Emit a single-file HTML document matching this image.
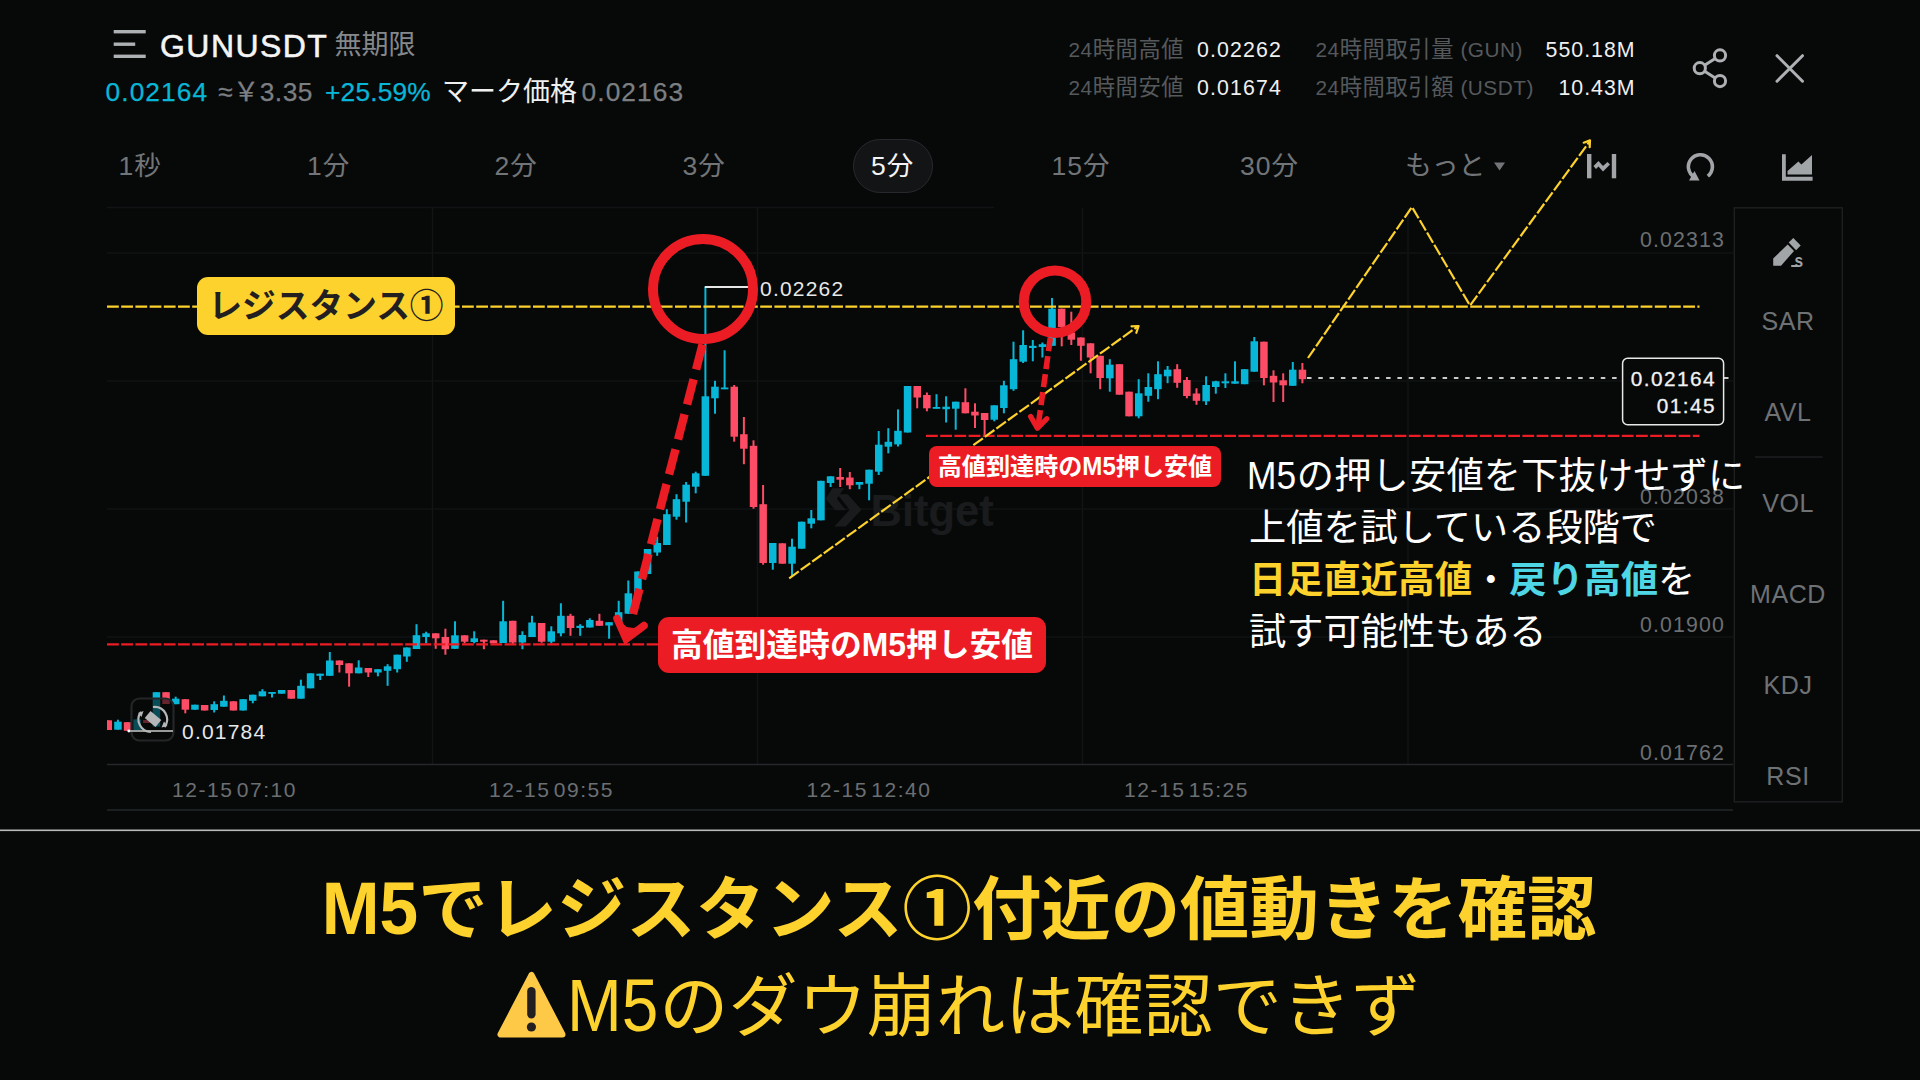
<!DOCTYPE html>
<html lang="ja"><head><meta charset="utf-8"><title>GUNUSDT M5</title>
<style>
html,body{margin:0;padding:0}
body{width:1920px;height:1080px;overflow:hidden;position:relative;background:#070909;font-family:"Liberation Sans","Noto Sans CJK JP",sans-serif}
.t{position:absolute;white-space:nowrap;line-height:1;font-family:"Liberation Sans","Noto Sans CJK JP",sans-serif}
.mb{display:inline-block;line-height:1;transform:scale(1,1.072);transform-origin:0 84.65%}
.mr{display:inline-block;line-height:1;transform:scale(0.95,1.058);transform-origin:0 84.65%;margin-right:-0.06em}
.lb{position:absolute;white-space:nowrap;text-align:center;font-weight:700;font-family:"Liberation Sans","Noto Sans CJK JP",sans-serif}
svg{position:absolute;left:0;top:0}
</style></head><body>
<svg width="1920" height="1080" viewBox="0 0 1920 1080">
<defs><clipPath id="cl"><rect x="107" y="200" width="1626" height="565"/></clipPath></defs>
<g stroke="#111315" stroke-width="1.4" fill="none">
<line x1="107" y1="207.5" x2="994" y2="207.5"/>
<line x1="107" y1="253" x2="1733" y2="253"/>
<line x1="107" y1="381" x2="1733" y2="381"/>
<line x1="107" y1="509" x2="1733" y2="509"/>
<line x1="107" y1="637" x2="1733" y2="637"/>
<line x1="432.5" y1="208" x2="432.5" y2="765"/>
<line x1="757.5" y1="208" x2="757.5" y2="765"/>
<line x1="1082.5" y1="208" x2="1082.5" y2="765"/>
<line x1="1408" y1="208" x2="1408" y2="765"/>
</g>
<g stroke="#25272a" stroke-width="1.5"><line x1="107" y1="764.5" x2="1733" y2="764.5"/><line x1="107" y1="810" x2="1733" y2="810"/></g>
<g fill="#1a1b1d"><path d="M837.3 494.3 H847.7 L861.5 509.7 L845.7 526.5 H834.3 L849.7 509.7 Z"/><path d="M826.5 488.2 H838.2 L830.8 498.8 L840 510.3 H829.5 L819.5 498.8 Z" transform="translate(6,0)"/></g>
<text x="870.5" y="526" font-family='"Liberation Sans","Noto Sans CJK JP",sans-serif' font-weight="700" font-size="43.5" fill="#1a1b1d">Bitget</text>
<g clip-path="url(#cl)">
<rect x="107.3" y="720.3" width="2" height="9.7" fill="#fc4c66"/>
<rect x="104.5" y="720.3" width="7.5" height="9.7" fill="#fc4c66"/>
<rect x="116.9" y="719.7" width="2" height="10.0" fill="#08b7d8"/>
<rect x="114.2" y="721.7" width="7.5" height="8.0" fill="#08b7d8"/>
<rect x="126.6" y="722.2" width="2" height="8.8" fill="#fc4c66"/>
<rect x="123.8" y="722.2" width="7.5" height="8.6" fill="#fc4c66"/>
<rect x="136.2" y="719.4" width="2" height="10.6" fill="#08b7d8"/>
<rect x="133.4" y="719.4" width="7.5" height="10.6" fill="#08b7d8"/>
<rect x="145.8" y="720.0" width="2" height="3.0" fill="#fc4c66"/>
<rect x="143.1" y="720.0" width="7.5" height="3.0" fill="#fc4c66"/>
<rect x="155.4" y="692.2" width="2" height="34.3" fill="#08b7d8"/>
<rect x="152.7" y="692.2" width="7.5" height="34.3" fill="#08b7d8"/>
<rect x="165.1" y="692.2" width="2" height="11.8" fill="#fc4c66"/>
<rect x="162.3" y="692.2" width="7.5" height="11.8" fill="#fc4c66"/>
<rect x="174.7" y="696.7" width="2" height="7.5" fill="#08b7d8"/>
<rect x="172.0" y="698.7" width="7.5" height="5.5" fill="#08b7d8"/>
<rect x="184.3" y="699.2" width="2" height="14.1" fill="#fc4c66"/>
<rect x="181.6" y="699.2" width="7.5" height="10.5" fill="#fc4c66"/>
<rect x="194.0" y="704.7" width="2" height="5.0" fill="#08b7d8"/>
<rect x="191.2" y="704.7" width="7.5" height="5.0" fill="#08b7d8"/>
<rect x="203.6" y="705.0" width="2" height="5.5" fill="#fc4c66"/>
<rect x="200.9" y="705.0" width="7.5" height="5.5" fill="#fc4c66"/>
<rect x="213.2" y="701.3" width="2" height="11.2" fill="#08b7d8"/>
<rect x="210.5" y="704.2" width="7.5" height="5.8" fill="#08b7d8"/>
<rect x="222.9" y="695.5" width="2" height="11.2" fill="#08b7d8"/>
<rect x="220.1" y="700.8" width="7.5" height="5.9" fill="#08b7d8"/>
<rect x="232.5" y="701.3" width="2" height="9.2" fill="#fc4c66"/>
<rect x="229.7" y="701.3" width="7.5" height="9.2" fill="#fc4c66"/>
<rect x="242.1" y="699.2" width="2" height="11.3" fill="#08b7d8"/>
<rect x="239.4" y="699.2" width="7.5" height="11.3" fill="#08b7d8"/>
<rect x="251.8" y="694.7" width="2" height="8.6" fill="#08b7d8"/>
<rect x="249.0" y="694.7" width="7.5" height="6.1" fill="#08b7d8"/>
<rect x="261.4" y="689.2" width="2" height="7.1" fill="#08b7d8"/>
<rect x="258.6" y="691.3" width="7.5" height="5.0" fill="#08b7d8"/>
<rect x="271.0" y="692.0" width="2" height="5.5" fill="#08b7d8"/>
<rect x="268.3" y="692.0" width="7.5" height="1.8" fill="#08b7d8"/>
<rect x="280.6" y="690.0" width="2" height="3.7" fill="#08b7d8"/>
<rect x="277.9" y="690.0" width="7.5" height="3.7" fill="#08b7d8"/>
<rect x="290.3" y="690.0" width="2" height="8.7" fill="#fc4c66"/>
<rect x="287.5" y="690.0" width="7.5" height="8.7" fill="#fc4c66"/>
<rect x="299.9" y="679.7" width="2" height="19.0" fill="#08b7d8"/>
<rect x="297.2" y="685.8" width="7.5" height="12.9" fill="#08b7d8"/>
<rect x="309.5" y="673.3" width="2" height="15.0" fill="#08b7d8"/>
<rect x="306.8" y="673.3" width="7.5" height="15.0" fill="#08b7d8"/>
<rect x="319.2" y="673.7" width="2" height="6.3" fill="#08b7d8"/>
<rect x="316.4" y="673.7" width="7.5" height="2.1" fill="#08b7d8"/>
<rect x="328.8" y="652.0" width="2" height="23.8" fill="#08b7d8"/>
<rect x="326.0" y="660.5" width="7.5" height="15.3" fill="#08b7d8"/>
<rect x="338.4" y="660.5" width="2" height="12.0" fill="#fc4c66"/>
<rect x="335.7" y="660.5" width="7.5" height="4.5" fill="#fc4c66"/>
<rect x="348.1" y="663.3" width="2" height="23.4" fill="#fc4c66"/>
<rect x="345.3" y="663.3" width="7.5" height="10.0" fill="#fc4c66"/>
<rect x="357.7" y="660.3" width="2" height="13.0" fill="#08b7d8"/>
<rect x="354.9" y="667.5" width="7.5" height="5.8" fill="#08b7d8"/>
<rect x="367.3" y="668.0" width="2" height="9.0" fill="#fc4c66"/>
<rect x="364.6" y="668.0" width="7.5" height="4.5" fill="#fc4c66"/>
<rect x="376.9" y="669.2" width="2" height="7.1" fill="#08b7d8"/>
<rect x="374.2" y="669.2" width="7.5" height="3.3" fill="#08b7d8"/>
<rect x="386.6" y="664.2" width="2" height="21.6" fill="#08b7d8"/>
<rect x="383.8" y="666.3" width="7.5" height="4.5" fill="#08b7d8"/>
<rect x="396.2" y="654.7" width="2" height="17.8" fill="#08b7d8"/>
<rect x="393.5" y="654.7" width="7.5" height="14.5" fill="#08b7d8"/>
<rect x="405.8" y="647.5" width="2" height="14.3" fill="#08b7d8"/>
<rect x="403.1" y="647.5" width="7.5" height="9.0" fill="#08b7d8"/>
<rect x="415.5" y="624.2" width="2" height="24.8" fill="#08b7d8"/>
<rect x="412.7" y="635.2" width="7.5" height="13.8" fill="#08b7d8"/>
<rect x="425.1" y="631.7" width="2" height="11.6" fill="#08b7d8"/>
<rect x="422.3" y="633.3" width="7.5" height="3.7" fill="#08b7d8"/>
<rect x="434.7" y="633.3" width="2" height="15.5" fill="#fc4c66"/>
<rect x="432.0" y="633.3" width="7.5" height="5.0" fill="#fc4c66"/>
<rect x="444.4" y="628.7" width="2" height="26.0" fill="#fc4c66"/>
<rect x="441.6" y="637.0" width="7.5" height="12.2" fill="#fc4c66"/>
<rect x="454.0" y="621.3" width="2" height="27.5" fill="#08b7d8"/>
<rect x="451.2" y="635.3" width="7.5" height="13.5" fill="#08b7d8"/>
<rect x="463.6" y="635.3" width="2" height="8.0" fill="#fc4c66"/>
<rect x="460.9" y="635.3" width="7.5" height="6.4" fill="#fc4c66"/>
<rect x="473.2" y="631.3" width="2" height="12.0" fill="#08b7d8"/>
<rect x="470.5" y="638.3" width="7.5" height="3.7" fill="#08b7d8"/>
<rect x="482.9" y="639.7" width="2" height="9.5" fill="#fc4c66"/>
<rect x="480.1" y="639.7" width="7.5" height="2.0" fill="#fc4c66"/>
<rect x="492.5" y="640.3" width="2" height="3.0" fill="#fc4c66"/>
<rect x="489.8" y="640.3" width="7.5" height="3.0" fill="#fc4c66"/>
<rect x="502.1" y="600.8" width="2" height="42.2" fill="#08b7d8"/>
<rect x="499.4" y="621.3" width="7.5" height="21.7" fill="#08b7d8"/>
<rect x="511.8" y="620.8" width="2" height="23.2" fill="#fc4c66"/>
<rect x="509.0" y="620.8" width="7.5" height="21.7" fill="#fc4c66"/>
<rect x="521.4" y="631.3" width="2" height="17.9" fill="#08b7d8"/>
<rect x="518.6" y="635.0" width="7.5" height="7.5" fill="#08b7d8"/>
<rect x="531.0" y="615.8" width="2" height="21.2" fill="#08b7d8"/>
<rect x="528.3" y="622.5" width="7.5" height="14.5" fill="#08b7d8"/>
<rect x="540.6" y="623.0" width="2" height="19.8" fill="#fc4c66"/>
<rect x="537.9" y="623.0" width="7.5" height="18.7" fill="#fc4c66"/>
<rect x="550.3" y="626.3" width="2" height="17.0" fill="#08b7d8"/>
<rect x="547.5" y="631.3" width="7.5" height="10.4" fill="#08b7d8"/>
<rect x="559.9" y="603.3" width="2" height="33.0" fill="#08b7d8"/>
<rect x="557.2" y="615.8" width="7.5" height="17.5" fill="#08b7d8"/>
<rect x="569.5" y="613.8" width="2" height="22.0" fill="#fc4c66"/>
<rect x="566.8" y="615.8" width="7.5" height="12.2" fill="#fc4c66"/>
<rect x="579.2" y="624.2" width="2" height="11.6" fill="#08b7d8"/>
<rect x="576.4" y="625.8" width="7.5" height="2.2" fill="#08b7d8"/>
<rect x="588.8" y="618.3" width="2" height="9.2" fill="#08b7d8"/>
<rect x="586.1" y="620.0" width="7.5" height="7.5" fill="#08b7d8"/>
<rect x="598.4" y="613.8" width="2" height="12.0" fill="#fc4c66"/>
<rect x="595.7" y="620.8" width="7.5" height="5.0" fill="#fc4c66"/>
<rect x="608.1" y="622.2" width="2" height="16.5" fill="#08b7d8"/>
<rect x="605.3" y="622.2" width="7.5" height="3.3" fill="#08b7d8"/>
<rect x="617.7" y="600.8" width="2" height="21.7" fill="#08b7d8"/>
<rect x="614.9" y="612.2" width="7.5" height="10.3" fill="#08b7d8"/>
<rect x="627.3" y="580.5" width="2" height="33.2" fill="#08b7d8"/>
<rect x="624.6" y="593.3" width="7.5" height="20.4" fill="#08b7d8"/>
<rect x="637.0" y="571.5" width="2" height="21.8" fill="#08b7d8"/>
<rect x="634.2" y="571.5" width="7.5" height="21.8" fill="#08b7d8"/>
<rect x="646.6" y="549.0" width="2" height="25.0" fill="#08b7d8"/>
<rect x="643.8" y="549.0" width="7.5" height="25.0" fill="#08b7d8"/>
<rect x="656.2" y="536.7" width="2" height="19.1" fill="#08b7d8"/>
<rect x="653.5" y="543.0" width="7.5" height="9.5" fill="#08b7d8"/>
<rect x="665.8" y="509.2" width="2" height="35.8" fill="#08b7d8"/>
<rect x="663.1" y="514.2" width="7.5" height="30.8" fill="#08b7d8"/>
<rect x="675.5" y="494.2" width="2" height="25.5" fill="#08b7d8"/>
<rect x="672.7" y="499.2" width="7.5" height="17.5" fill="#08b7d8"/>
<rect x="685.1" y="482.0" width="2" height="40.5" fill="#08b7d8"/>
<rect x="682.4" y="484.7" width="7.5" height="17.0" fill="#08b7d8"/>
<rect x="694.7" y="471.7" width="2" height="21.6" fill="#08b7d8"/>
<rect x="692.0" y="473.3" width="7.5" height="13.4" fill="#08b7d8"/>
<rect x="704.4" y="286.7" width="2" height="189.1" fill="#08b7d8"/>
<rect x="701.6" y="396.3" width="7.5" height="79.5" fill="#08b7d8"/>
<rect x="714.0" y="380.8" width="2" height="32.9" fill="#08b7d8"/>
<rect x="711.2" y="386.7" width="7.5" height="11.6" fill="#08b7d8"/>
<rect x="723.6" y="350.3" width="2" height="38.9" fill="#08b7d8"/>
<rect x="720.9" y="387.5" width="7.5" height="1.8" fill="#08b7d8"/>
<rect x="733.2" y="385.0" width="2" height="56.7" fill="#fc4c66"/>
<rect x="730.5" y="386.7" width="7.5" height="50.0" fill="#fc4c66"/>
<rect x="742.9" y="417.0" width="2" height="47.2" fill="#fc4c66"/>
<rect x="740.1" y="434.2" width="7.5" height="14.5" fill="#fc4c66"/>
<rect x="752.5" y="440.3" width="2" height="68.4" fill="#fc4c66"/>
<rect x="749.8" y="445.8" width="7.5" height="61.2" fill="#fc4c66"/>
<rect x="762.1" y="485.0" width="2" height="79.7" fill="#fc4c66"/>
<rect x="759.4" y="504.2" width="7.5" height="58.8" fill="#fc4c66"/>
<rect x="771.8" y="543.0" width="2" height="26.7" fill="#08b7d8"/>
<rect x="769.0" y="543.0" width="7.5" height="20.0" fill="#08b7d8"/>
<rect x="781.4" y="543.3" width="2" height="20.4" fill="#fc4c66"/>
<rect x="778.6" y="543.3" width="7.5" height="20.4" fill="#fc4c66"/>
<rect x="791.0" y="538.7" width="2" height="38.0" fill="#08b7d8"/>
<rect x="788.3" y="546.7" width="7.5" height="17.0" fill="#08b7d8"/>
<rect x="800.7" y="521.7" width="2" height="27.0" fill="#08b7d8"/>
<rect x="797.9" y="521.7" width="7.5" height="27.0" fill="#08b7d8"/>
<rect x="810.3" y="510.0" width="2" height="18.3" fill="#08b7d8"/>
<rect x="807.5" y="518.3" width="7.5" height="5.4" fill="#08b7d8"/>
<rect x="819.9" y="480.8" width="2" height="39.5" fill="#08b7d8"/>
<rect x="817.2" y="480.8" width="7.5" height="39.5" fill="#08b7d8"/>
<rect x="829.6" y="476.3" width="2" height="10.7" fill="#08b7d8"/>
<rect x="826.8" y="476.3" width="7.5" height="6.7" fill="#08b7d8"/>
<rect x="839.2" y="468.0" width="2" height="19.0" fill="#fc4c66"/>
<rect x="836.4" y="477.0" width="7.5" height="2.7" fill="#fc4c66"/>
<rect x="848.8" y="472.0" width="2" height="17.2" fill="#fc4c66"/>
<rect x="846.1" y="477.5" width="7.5" height="7.8" fill="#fc4c66"/>
<rect x="858.4" y="482.0" width="2" height="7.2" fill="#08b7d8"/>
<rect x="855.7" y="482.0" width="7.5" height="2.7" fill="#08b7d8"/>
<rect x="868.1" y="469.7" width="2" height="30.6" fill="#08b7d8"/>
<rect x="865.3" y="469.7" width="7.5" height="14.0" fill="#08b7d8"/>
<rect x="877.7" y="431.0" width="2" height="44.0" fill="#08b7d8"/>
<rect x="875.0" y="444.7" width="7.5" height="27.0" fill="#08b7d8"/>
<rect x="887.3" y="428.2" width="2" height="25.1" fill="#08b7d8"/>
<rect x="884.6" y="441.8" width="7.5" height="4.9" fill="#08b7d8"/>
<rect x="897.0" y="409.4" width="2" height="37.1" fill="#08b7d8"/>
<rect x="894.2" y="430.8" width="7.5" height="13.6" fill="#08b7d8"/>
<rect x="906.6" y="386.0" width="2" height="46.5" fill="#08b7d8"/>
<rect x="903.8" y="386.0" width="7.5" height="46.5" fill="#08b7d8"/>
<rect x="916.2" y="386.0" width="2" height="22.3" fill="#fc4c66"/>
<rect x="913.5" y="386.0" width="7.5" height="11.5" fill="#fc4c66"/>
<rect x="925.9" y="392.5" width="2" height="18.8" fill="#fc4c66"/>
<rect x="923.1" y="395.0" width="7.5" height="13.3" fill="#fc4c66"/>
<rect x="935.5" y="394.2" width="2" height="14.5" fill="#08b7d8"/>
<rect x="932.7" y="407.0" width="7.5" height="1.8" fill="#08b7d8"/>
<rect x="945.1" y="396.3" width="2" height="26.2" fill="#08b7d8"/>
<rect x="942.4" y="406.7" width="7.5" height="2.5" fill="#08b7d8"/>
<rect x="954.7" y="401.7" width="2" height="28.0" fill="#08b7d8"/>
<rect x="952.0" y="401.7" width="7.5" height="7.0" fill="#08b7d8"/>
<rect x="964.4" y="388.3" width="2" height="25.0" fill="#fc4c66"/>
<rect x="961.6" y="402.2" width="7.5" height="11.1" fill="#fc4c66"/>
<rect x="974.0" y="403.3" width="2" height="24.7" fill="#fc4c66"/>
<rect x="971.2" y="411.7" width="7.5" height="3.8" fill="#fc4c66"/>
<rect x="983.6" y="413.0" width="2" height="22.8" fill="#fc4c66"/>
<rect x="980.9" y="413.0" width="7.5" height="7.0" fill="#fc4c66"/>
<rect x="993.3" y="405.3" width="2" height="16.0" fill="#08b7d8"/>
<rect x="990.5" y="405.3" width="7.5" height="14.4" fill="#08b7d8"/>
<rect x="1002.9" y="380.8" width="2" height="32.5" fill="#08b7d8"/>
<rect x="1000.1" y="385.3" width="7.5" height="22.7" fill="#08b7d8"/>
<rect x="1012.5" y="341.7" width="2" height="49.1" fill="#08b7d8"/>
<rect x="1009.8" y="359.2" width="7.5" height="30.0" fill="#08b7d8"/>
<rect x="1022.1" y="330.3" width="2" height="32.7" fill="#08b7d8"/>
<rect x="1019.4" y="345.0" width="7.5" height="16.7" fill="#08b7d8"/>
<rect x="1031.8" y="340.0" width="2" height="21.3" fill="#08b7d8"/>
<rect x="1029.0" y="345.8" width="7.5" height="2.2" fill="#08b7d8"/>
<rect x="1041.4" y="342.5" width="2" height="15.0" fill="#08b7d8"/>
<rect x="1038.7" y="344.2" width="7.5" height="2.8" fill="#08b7d8"/>
<rect x="1051.0" y="298.0" width="2" height="47.8" fill="#08b7d8"/>
<rect x="1048.3" y="308.7" width="7.5" height="37.1" fill="#08b7d8"/>
<rect x="1060.7" y="308.7" width="2" height="37.6" fill="#fc4c66"/>
<rect x="1057.9" y="308.7" width="7.5" height="18.3" fill="#fc4c66"/>
<rect x="1070.3" y="311.7" width="2" height="33.3" fill="#fc4c66"/>
<rect x="1067.6" y="332.5" width="7.5" height="7.2" fill="#fc4c66"/>
<rect x="1079.9" y="337.5" width="2" height="23.3" fill="#fc4c66"/>
<rect x="1077.2" y="337.5" width="7.5" height="8.3" fill="#fc4c66"/>
<rect x="1089.6" y="343.3" width="2" height="30.0" fill="#fc4c66"/>
<rect x="1086.8" y="343.3" width="7.5" height="14.2" fill="#fc4c66"/>
<rect x="1099.2" y="355.8" width="2" height="33.4" fill="#fc4c66"/>
<rect x="1096.4" y="355.8" width="7.5" height="22.2" fill="#fc4c66"/>
<rect x="1108.8" y="359.2" width="2" height="32.5" fill="#08b7d8"/>
<rect x="1106.1" y="364.7" width="7.5" height="13.6" fill="#08b7d8"/>
<rect x="1118.5" y="364.2" width="2" height="30.5" fill="#fc4c66"/>
<rect x="1115.7" y="364.2" width="7.5" height="30.5" fill="#fc4c66"/>
<rect x="1128.1" y="391.7" width="2" height="24.6" fill="#fc4c66"/>
<rect x="1125.3" y="391.7" width="7.5" height="24.6" fill="#fc4c66"/>
<rect x="1137.7" y="379.2" width="2" height="39.1" fill="#08b7d8"/>
<rect x="1135.0" y="393.3" width="7.5" height="23.0" fill="#08b7d8"/>
<rect x="1147.3" y="373.3" width="2" height="28.4" fill="#08b7d8"/>
<rect x="1144.6" y="387.0" width="7.5" height="8.8" fill="#08b7d8"/>
<rect x="1157.0" y="361.3" width="2" height="37.9" fill="#08b7d8"/>
<rect x="1154.2" y="374.2" width="7.5" height="15.0" fill="#08b7d8"/>
<rect x="1166.6" y="366.0" width="2" height="17.2" fill="#08b7d8"/>
<rect x="1163.9" y="369.7" width="7.5" height="6.6" fill="#08b7d8"/>
<rect x="1176.2" y="364.2" width="2" height="23.6" fill="#fc4c66"/>
<rect x="1173.5" y="369.2" width="7.5" height="13.6" fill="#fc4c66"/>
<rect x="1185.9" y="377.0" width="2" height="21.3" fill="#fc4c66"/>
<rect x="1183.1" y="380.0" width="7.5" height="16.0" fill="#fc4c66"/>
<rect x="1195.5" y="388.3" width="2" height="16.5" fill="#fc4c66"/>
<rect x="1192.7" y="393.5" width="7.5" height="7.3" fill="#fc4c66"/>
<rect x="1205.1" y="376.3" width="2" height="28.7" fill="#08b7d8"/>
<rect x="1202.4" y="385.0" width="7.5" height="16.3" fill="#08b7d8"/>
<rect x="1214.8" y="380.8" width="2" height="12.9" fill="#08b7d8"/>
<rect x="1212.0" y="381.3" width="7.5" height="5.7" fill="#08b7d8"/>
<rect x="1224.4" y="373.3" width="2" height="14.7" fill="#08b7d8"/>
<rect x="1221.6" y="381.3" width="7.5" height="2.0" fill="#08b7d8"/>
<rect x="1234.0" y="361.3" width="2" height="22.4" fill="#08b7d8"/>
<rect x="1231.3" y="381.3" width="7.5" height="2.4" fill="#08b7d8"/>
<rect x="1243.6" y="369.2" width="2" height="15.0" fill="#08b7d8"/>
<rect x="1240.9" y="369.2" width="7.5" height="15.0" fill="#08b7d8"/>
<rect x="1253.3" y="337.0" width="2" height="34.7" fill="#08b7d8"/>
<rect x="1250.5" y="341.3" width="7.5" height="30.4" fill="#08b7d8"/>
<rect x="1262.9" y="341.7" width="2" height="43.6" fill="#fc4c66"/>
<rect x="1260.2" y="341.7" width="7.5" height="36.3" fill="#fc4c66"/>
<rect x="1272.5" y="370.3" width="2" height="31.7" fill="#fc4c66"/>
<rect x="1269.8" y="375.8" width="7.5" height="6.7" fill="#fc4c66"/>
<rect x="1282.2" y="373.3" width="2" height="28.7" fill="#fc4c66"/>
<rect x="1279.4" y="380.3" width="7.5" height="5.0" fill="#fc4c66"/>
<rect x="1291.8" y="362.0" width="2" height="23.8" fill="#08b7d8"/>
<rect x="1289.0" y="369.7" width="7.5" height="16.1" fill="#08b7d8"/>
<rect x="1301.4" y="363.0" width="2" height="20.3" fill="#fc4c66"/>
<rect x="1298.7" y="369.7" width="7.5" height="9.5" fill="#fc4c66"/>
</g>
<path d="M704.8 287 H748.5" stroke="#e6e6e6" stroke-width="2" fill="none"/>
<path d="M1307 378 H1622 M1724 378 H1733" stroke="#cacaca" stroke-width="2.2" stroke-dasharray="4.5 6.8" fill="none"/>
<rect x="131.5" y="698.5" width="42" height="42" rx="8" fill="#08090a" fill-opacity="0.62" stroke="#232527" stroke-width="2.2"/>
<path d="M128.7 731 H173" stroke="#9a9a9a" stroke-width="2" fill="none"/><circle cx="128.8" cy="731" r="1.4" fill="#fff"/>
<g fill="none" stroke="#b4b6b8" stroke-width="2.2"><path d="M153 707 A12.5 12.5 0 0 1 164.5 727"/><path d="M151 732 A12.5 12.5 0 0 1 141 712"/></g>
<path d="M161.5 727.5 L167.5 726 L164 721.5 Z M143.5 711 L138 713 L141.5 717 Z" fill="#b4b6b8"/>
<rect x="-7" y="-4.5" width="14" height="9" fill="#b4b6b8" transform="translate(153,719) rotate(40)"/>
<path d="M107 306.7 H1699.5" stroke="#fdd22c" stroke-width="2.2" stroke-dasharray="11.8 2.4" fill="none"/>
<path d="M107 644.3 H660" stroke="#ec1c24" stroke-width="2.2" stroke-dasharray="11.8 2.4" fill="none"/>
<path d="M926 435.8 H1699.5" stroke="#ec1c24" stroke-width="2.2" stroke-dasharray="11.8 2.4" fill="none"/>
<path d="M789.2 578.3 L1138.3 326" stroke="#fdd22c" stroke-width="2.2" stroke-dasharray="11.8 2.4" fill="none"/>
<path d="M1131.5 326.3 L1138.6 326 L1136.3 332.8" stroke="#fdd22c" stroke-width="2.2" fill="none" stroke-linecap="round" stroke-linejoin="round"/>
<path d="M1308 358 L1412 207 L1470 305.5 L1590 141" stroke="#fdd22c" stroke-width="2.2" stroke-dasharray="11.8 2.4" fill="none"/>
<path d="M1583.7 142.7 L1590 140.4 L1589.7 147.2" stroke="#fdd22c" stroke-width="2.2" fill="none" stroke-linecap="round" stroke-linejoin="round"/>
<circle cx="703" cy="289" r="50" stroke="#ec1c24" stroke-width="10" fill="none"/>
<circle cx="1055" cy="301.7" r="31.25" stroke="#ec1c24" stroke-width="10" fill="none"/>
<path d="M702.6 344.4 L632.9 614.4" stroke="#ec1c24" stroke-width="8.4" stroke-dasharray="26 10.07" fill="none"/>
<path d="M617 618.5 L626.2 639 L644 625.6" stroke="#ec1c24" stroke-width="7.6" fill="none" stroke-linecap="round" stroke-linejoin="miter" stroke-miterlimit="6"/><path d="M621 622 L626.7 627 L633.5 628 L640 626.5 L626.4 640 Z" fill="#ec1c24"/>
<path d="M1050.3 338 L1038 427" stroke="#ec1c24" stroke-width="5.6" stroke-dasharray="13.2 5" fill="none"/>
<path d="M1030.6 416.4 L1037.3 428.3 L1046.9 418.7" stroke="#ec1c24" stroke-width="5.2" fill="none" stroke-linecap="round" stroke-linejoin="round"/><circle cx="1037.7" cy="423.6" r="2.2" fill="#ec1c24"/>
<g fill="#aeb1b4"><rect x="113.7" y="30" width="32" height="3.4"/><rect x="113.7" y="42.5" width="21.5" height="3.4"/><rect x="113.7" y="54.6" width="32" height="3.4"/></g>
<g fill="none" stroke="#aeb1b4" stroke-width="3"><circle cx="1720" cy="55.4" r="5.6"/><circle cx="1699.8" cy="68.2" r="5.6"/><circle cx="1720" cy="81.1" r="5.6"/><path d="M1704.6 65.2 L1715.2 58.4 M1704.6 71.2 L1715.2 78.1"/><path d="M1777 55.7 L1802.5 81.2 M1802.5 55.7 L1777 81.2" stroke-linecap="round"/></g>
<g fill="#a2a5a8"><rect x="1587" y="154" width="4.4" height="24.3"/><rect x="1611.8" y="154" width="4.4" height="24.3"/><path d="M1593.5 166 L1598.5 161 L1603 166 L1607.5 162 L1610 164.5 L1603 171.5 L1598.5 166.5 L1596 169 Z"/></g>
<path d="M1707.8 176.2 A12 12 0 1 0 1694.5 177.2" fill="none" stroke="#a2a5a8" stroke-width="3.6"/><path d="M1689 180.5 L1699.5 180.5 L1694.5 171 Z" fill="#a2a5a8"/>
<g fill="#a2a5a8"><path d="M1782 154.2 H1785.8 V176.8 H1812.6 V180.7 H1782 Z"/><path d="M1787.5 174.6 L1787.5 171 L1798.4 161.5 L1801.4 164.4 L1812 154.9 L1812 174.6 Z"/></g>
<rect x="1734.3" y="207.8" width="108" height="594" fill="none" stroke="#1c1e20" stroke-width="1.5"/>
<line x1="1755" y1="457" x2="1822.5" y2="457" stroke="#1c1e20" stroke-width="1.5"/>
<g fill="#a2a5a8"><path d="M1773.2 258.4 L1787.7 244.6 L1794 251 L1781 265.7 H1773.2 Z"/><path d="M1788.7 242.6 L1793.3 238.1 L1800.7 245.4 L1796.1 250.2 Z"/><rect x="1791.2" y="265" width="6" height="2"/></g>
<text x="1794.6" y="267" font-family='"Liberation Sans","Noto Sans CJK JP",sans-serif' font-weight="700" font-size="17.5" fill="#a2a5a8" textLength="8.6" lengthAdjust="spacingAndGlyphs">s</text>
<rect x="1622.6" y="358.2" width="101" height="66.6" rx="5" fill="#070909" stroke="#e8e8e8" stroke-width="1.5"/>
<rect x="0" y="829.5" width="1920" height="1.6" fill="#b9bbbb"/>
<path d="M531.5 975 L500.5 1034.5 L562.5 1034.5 Z" fill="#fec946" stroke="#fec946" stroke-width="6" stroke-linejoin="round"/><rect x="527.2" y="987" width="8.4" height="31.5" rx="4.2" fill="#231f20"/><circle cx="531.4" cy="1027" r="4.6" fill="#231f20"/>
<path d="M1494 162.5 H1505 L1499.5 170.5 Z" fill="#727578"/>
</svg>
<div class="t" style="left:160px;top:29.5px;font-size:32px;color:#f4f4f4;-webkit-text-stroke:0.55px #f4f4f4;letter-spacing:1.45px">GUNUSDT</div>
<div class="t" style="left:334.5px;top:31.5px;font-size:27px;color:#85888b;">無期限</div>
<div class="t" style="left:105.5px;top:78.5px;font-size:26.3px;color:#08b7d8;-webkit-text-stroke:0.25px;letter-spacing:1.1px">0.02164</div>
<div class="t" style="left:218px;top:78.5px;font-size:26.3px;color:#7c7f82;-webkit-text-stroke:0.25px;letter-spacing:0.5px">≈<span style="letter-spacing:0.5px">￥</span>3.35</div>
<div class="t" style="left:325px;top:78.5px;font-size:26.3px;color:#08b7d8;-webkit-text-stroke:0.25px;letter-spacing:0.2px">+25.59%</div>
<div class="t" style="left:442px;top:78.7px;font-size:27px;color:#f0f0f0;">マーク価格</div>
<div class="t" style="left:581.5px;top:78.5px;font-size:26.3px;color:#7c7f82;-webkit-text-stroke:0.25px;letter-spacing:1.1px">0.02163</div>
<div class="t" style="left:1068.5px;top:39px;font-size:22.3px;color:#56595c;letter-spacing:0.6px"><span style="font-size:20.8px;letter-spacing:0.5px">24</span>時間高値</div>
<div class="t" style="left:1197px;top:40px;font-size:21.3px;color:#f0f0f0;letter-spacing:1.15px">0.02262</div>
<div class="t" style="left:1068.5px;top:76.8px;font-size:22.3px;color:#56595c;letter-spacing:0.6px"><span style="font-size:20.8px;letter-spacing:0.5px">24</span>時間安値</div>
<div class="t" style="left:1197px;top:77.8px;font-size:21.3px;color:#f0f0f0;letter-spacing:1.15px">0.01674</div>
<div class="t" style="left:1315.5px;top:39px;font-size:22.3px;color:#56595c;letter-spacing:0.6px"><span style="font-size:20.8px;letter-spacing:0.5px">24</span>時間取引量<span style="font-size:20.8px;letter-spacing:0.5px"> (GUN)</span></div>
<div class="t" style="right:284.5px;top:40px;font-size:21.3px;color:#f0f0f0;letter-spacing:1.0px">550.18M</div>
<div class="t" style="left:1315.5px;top:76.8px;font-size:22.3px;color:#56595c;letter-spacing:0.6px"><span style="font-size:20.8px;letter-spacing:0.5px">24</span>時間取引額<span style="font-size:20.8px;letter-spacing:0.5px"> (USDT)</span></div>
<div class="t" style="right:284.5px;top:77.8px;font-size:21.3px;color:#f0f0f0;letter-spacing:1.0px">10.43M</div>
<div class="t" style="left:118.5px;top:153.3px;font-size:26.5px;color:#727578;letter-spacing:1px">1秒</div>
<div class="t" style="left:307px;top:153.3px;font-size:26.5px;color:#727578;letter-spacing:1px">1分</div>
<div class="t" style="left:494.5px;top:153.3px;font-size:26.5px;color:#727578;letter-spacing:1px">2分</div>
<div class="t" style="left:682.5px;top:153.3px;font-size:26.5px;color:#727578;letter-spacing:1px">3分</div>
<div class="t" style="left:1051.5px;top:153.3px;font-size:26.5px;color:#727578;letter-spacing:1px">15分</div>
<div class="t" style="left:1240px;top:153.3px;font-size:26.5px;color:#727578;letter-spacing:1px">30分</div>
<div class="t" style="left:1405px;top:153px;font-size:26.8px;color:#727578;">もっと</div>
<div style="position:absolute;left:853px;top:139px;width:77.5px;height:52px;border:1.5px solid #27292c;border-radius:28px;background:#131416"></div>
<div class="t" style="left:871px;top:153.3px;font-size:26.5px;color:#f4f4f4;letter-spacing:1px">5分</div>
<div class="t" style="left:1734px;width:108px;text-align:center;top:308.5px;font-size:25px;letter-spacing:0.55px;color:#6f7275">SAR</div>
<div class="t" style="left:1734px;width:108px;text-align:center;top:399.5px;font-size:25px;letter-spacing:0.55px;color:#6f7275">AVL</div>
<div class="t" style="left:1734px;width:108px;text-align:center;top:490.5px;font-size:25px;letter-spacing:0.55px;color:#6f7275">VOL</div>
<div class="t" style="left:1734px;width:108px;text-align:center;top:581.5px;font-size:25px;letter-spacing:0.55px;color:#6f7275">MACD</div>
<div class="t" style="left:1734px;width:108px;text-align:center;top:672.5px;font-size:25px;letter-spacing:0.55px;color:#6f7275">KDJ</div>
<div class="t" style="left:1734px;width:108px;text-align:center;top:763.5px;font-size:25px;letter-spacing:0.55px;color:#6f7275">RSI</div>
<div class="t" style="right:195px;top:230.0px;font-size:21.3px;color:#6c6f72;letter-spacing:1.15px">0.02313</div>
<div class="t" style="right:195px;top:486.5px;font-size:21.3px;color:#6c6f72;letter-spacing:1.15px">0.02038</div>
<div class="t" style="right:195px;top:614.5px;font-size:21.3px;color:#6c6f72;letter-spacing:1.15px">0.01900</div>
<div class="t" style="right:195px;top:742.5px;font-size:21.3px;color:#6c6f72;letter-spacing:1.15px">0.01762</div>
<div class="t" style="left:134.5px;width:200px;text-align:center;top:779px;font-size:21px;color:#6c6f72;letter-spacing:1.55px;word-spacing:-4px">12-15 07:10</div>
<div class="t" style="left:451.5px;width:200px;text-align:center;top:779px;font-size:21px;color:#6c6f72;letter-spacing:1.55px;word-spacing:-4px">12-15 09:55</div>
<div class="t" style="left:769px;width:200px;text-align:center;top:779px;font-size:21px;color:#6c6f72;letter-spacing:1.55px;word-spacing:-4px">12-15 12:40</div>
<div class="t" style="left:1086.5px;width:200px;text-align:center;top:779px;font-size:21px;color:#6c6f72;letter-spacing:1.55px;word-spacing:-4px">12-15 15:25</div>
<div class="t" style="left:760px;top:277.5px;font-size:21px;color:#e8e8e8;letter-spacing:1.2px">0.02262</div>
<div class="t" style="left:182px;top:721px;font-size:21px;color:#e8e8e8;letter-spacing:1.2px">0.01784</div>
<div class="t" style="right:204px;top:368.5px;font-size:20.8px;color:#f2f2f2;letter-spacing:1.45px;-webkit-text-stroke:0.3px #f2f2f2">0.02164</div>
<div class="t" style="right:204px;top:395.5px;font-size:20.8px;color:#f2f2f2;letter-spacing:1.45px;-webkit-text-stroke:0.3px #f2f2f2">01:45</div>
<div class="lb" style="left:197px;top:277px;width:258px;height:58px;background:#fdd22c;border-radius:11px;color:#231f20;font-size:33.7px;line-height:59.5px">レジスタンス①</div>
<div class="lb" style="left:658px;top:617px;width:388px;height:55.5px;background:#ec1c24;border-radius:11px;color:#fff;font-size:31.8px;line-height:56px">高値到達時の<span class="mb">M5</span>押し安値</div>
<div class="lb" style="left:929px;top:446px;width:292px;height:41px;background:#ec1c24;border-radius:8px;color:#fff;font-size:24.1px;line-height:42px">高値到達時の<span class="mb">M5</span>押し安値</div>
<div class="t" style="left:1247px;top:457.5px;font-size:37.2px;color:#fff;letter-spacing:0.2px"><span class="mr">M5</span>の押し安値を下抜けせずに</div>
<div class="t" style="left:1249px;top:509.5px;font-size:37.2px;color:#fff;">上値を試している段階で</div>
<div class="t" style="left:1249px;top:561.5px;font-size:37.2px;color:#fff;"><b style="color:#fdd22c">日足直近高値</b>・<b style="color:#4fd6e4">戻り高値</b>を</div>
<div class="t" style="left:1249px;top:613.5px;font-size:37.2px;color:#fff;">試す可能性もある</div>
<div class="t" style="left:321.8px;top:876px;font-size:69.4px;color:#fdd22c;font-weight:700"><span class="mb">M5</span>でレジスタンス①付近の値動きを確認</div>
<div class="t" style="left:567.3px;top:973.2px;font-size:69.2px;color:#fdd22c;"><span class="mr">M5</span>のダウ崩れは確認できず</div>
</body></html>
